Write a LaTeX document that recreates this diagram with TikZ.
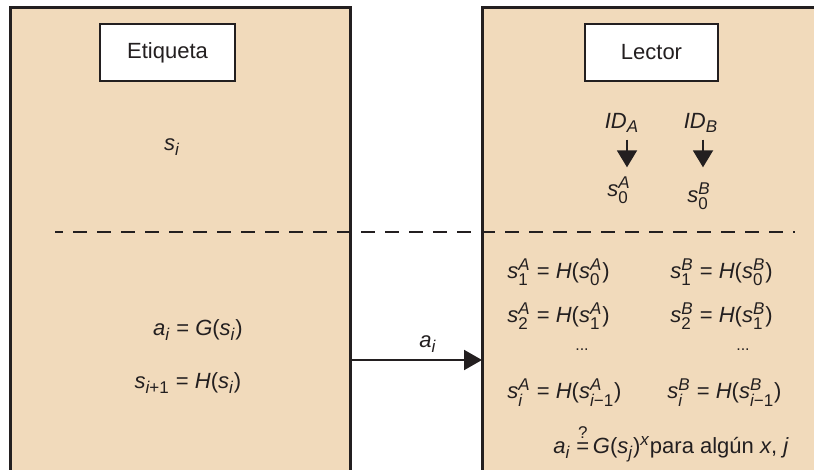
\documentclass[tikz,border=0pt]{standalone}
\usepackage{fontspec}
\setmainfont{Liberation Sans}
\usepackage{amsmath}
\usetikzlibrary{arrows.meta, positioning}
\definecolor{BG}{RGB}{241,218,187}
\definecolor{DG}{RGB}{35,31,32}
\DeclareMathSizes{11}{11}{8.5}{6.5}
\newcommand{\vi}[1]{\textit{#1}}

\begin{document}
\begin{tikzpicture}[x=0.5pt, y=-0.5pt, font=\fontsize{11}{13}\selectfont, text=DG,
  panel/.style={draw=DG, line width=1.5pt, fill=BG, inner sep=0pt, outer sep=0pt,
    minimum height=236pt},
  title/.style={draw=DG, line width=1pt, fill=white, inner sep=0pt,
    minimum width=67.5pt, minimum height=28.5pt},
  eq/.style={anchor=west, inner sep=0pt},
  tip/.style={-{Triangle[length=8.5pt,width=10pt]}, draw=DG, line width=1pt}]
\useasboundingbox (0,0) rectangle (814,470);
\clip (0,0) rectangle (814,470);

% the two sides
\node[panel, minimum width=170pt] (tag) at (180,244) {};
\node[panel, minimum width=174pt] (reader) at (656,244) {};
\node[title] (tagT) at (167.5,52.5) {Etiqueta};
\node[title, minimum width=66.5pt] (readT) at (651.5,52.5) {Lector};

\draw[DG, line width=1pt, dash pattern=on 7pt off 5pt, dash phase=3pt]
  (55,232) -- (795,232);

% tag side
\node (si) at (172,147) {$\vi{s}_{\vi{i}}$};
\node (gen) at (198,330) {$\vi{a}_{\vi{i}}$ = \vi{G}($\vi{s}_{\vi{i}}$)};
\node (upd) at (188,383) {$\vi{s}_{\vi{i}\text{+1}}$ = \vi{H}($\vi{s}_{\vi{i}}$)};

% message
\coordinate (msg) at (416,360);
\draw[tip, -{Triangle[length=9pt,width=10pt]}] (tag.east |- msg) -- (reader.west |- msg)
  node[pos=0.59, above=0pt] (ai) {$\vi{a}_{\vi{i}}$};

% reader side
\node (idA) at (622,123) {$\vi{ID}_{\vi{A}}$};
\node (idB) at (701,123) {$\vi{ID}_{\vi{B}}$};
\node (s0A) at (619,190) {$\vi{s}^{\vi{A}}_{\text{0}}$};
\node (s0B) at (699,196) {$\vi{s}^{\vi{B}}_{\text{0}}$};
\draw[tip] ([xshift=2.5pt]idA.south) -- ([xshift=2.5pt,yshift=1pt]idA.south |- s0A.north);
\draw[tip] ([xshift=1pt]idB.south) -- ([xshift=1pt,yshift=1pt]idB.south |- s0A.north);

\node[eq] (r1a) at (507,272) {$\vi{s}^{\vi{A}}_{\text{1}}$ = \vi{H}($\vi{s}^{\vi{A}}_{\text{0}}$)};
\node[eq] (r1b) at (670,272) {$\vi{s}^{\vi{B}}_{\text{1}}$ = \vi{H}($\vi{s}^{\vi{B}}_{\text{0}}$)};
\node[eq] (r2a) at (507,316) {$\vi{s}^{\vi{A}}_{\text{2}}$ = \vi{H}($\vi{s}^{\vi{A}}_{\text{1}}$)};
\node[eq] (r2b) at (670,316) {$\vi{s}^{\vi{B}}_{\text{2}}$ = \vi{H}($\vi{s}^{\vi{B}}_{\text{1}}$)};
\node[font=\fontsize{8}{9}\selectfont] (dA) at (582,350) {...};
\node[font=\fontsize{8}{9}\selectfont] (dB) at (743,350) {...};
\node[eq] (ria) at (507,393) {$\vi{s}^{\vi{A}}_{\vi{i}}$ = \vi{H}($\vi{s}^{\vi{A}}_{\vi{i}\text{−1}}$)};
\node[eq] (rib) at (667,393) {$\vi{s}^{\vi{B}}_{\vi{i}}$ = \vi{H}($\vi{s}^{\vi{B}}_{\vi{i}\text{−1}}$)};
\node (chk) at (671,443) {$\vi{a}_{\vi{i}}\stackrel{\text{?}}{\text{=}}$\,\vi{G}($\vi{s}_{\vi{j}}$)$^{\vi{x}}$para algún \vi{x}, \vi{j}};
\end{tikzpicture}
\end{document}
